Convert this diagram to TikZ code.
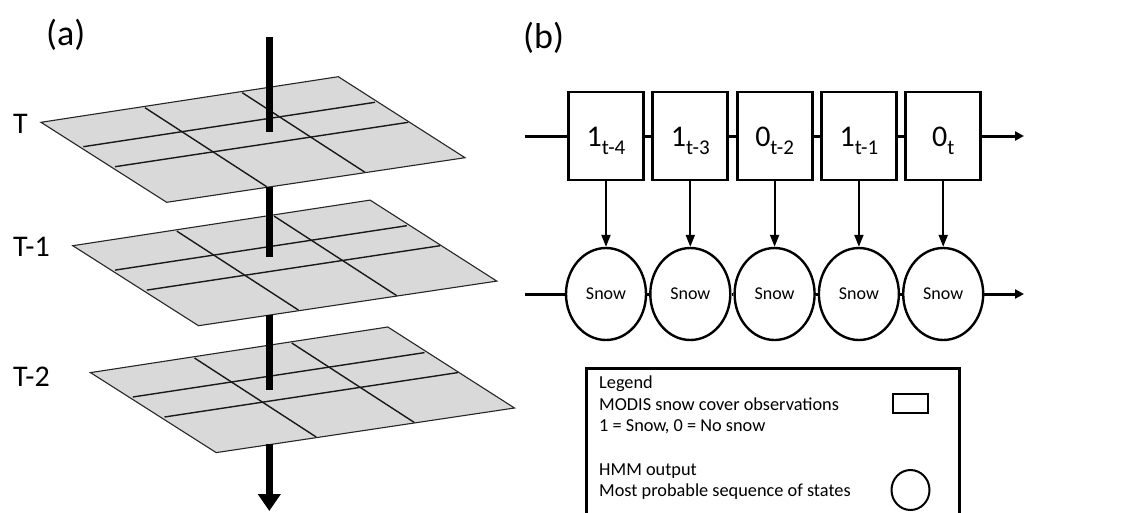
\documentclass[tikz,border=0pt]{standalone}
\usepackage{fontspec}
\setmainfont{Carlito}
\usetikzlibrary{arrows.meta,shapes.geometric}
\newcommand\obsv[2]{#1\raisebox{-7.5pt}{\fontsize{21}{21}\selectfont #2}}
\begin{document}
\begin{tikzpicture}[x=1pt,y=-1pt,
  gridline/.style={line width=1.4pt, draw=black!90},
  planeedge/.style={line width=1.1pt, draw=black!85},
  obsbox/.style={draw, line width=2.8pt, fill=white, minimum width=75pt, minimum height=88pt,
     inner sep=0pt, text height=21pt, text depth=0pt, font=\fontsize{30}{32}\selectfont},
  state/.style={draw, ellipse, line width=2.4pt, fill=white, minimum width=80pt, minimum height=92pt,
     inner sep=0pt, font=\fontsize{18}{20}\selectfont},
  chain/.style={line width=3pt},
  chainend/.style={line width=3pt, -{Triangle[width=9pt,length=9pt]}},
  emit/.style={line width=2pt, -{Triangle[width=9pt,length=12pt]}},
  axisline/.style={line width=6.5pt},
  lbl/.style={anchor=base west, inner sep=0pt, font=\fontsize{30}{32}\selectfont},
  panel/.style={anchor=base west, inner sep=0pt, font=\fontsize{36}{38}\selectfont},
  legtext/.style={anchor=base west, inner sep=0pt, font=\fontsize{18.3}{20}\selectfont},
  gridplane/.pic={
    \fill[black!15] (41,122.3) -- (338.3,76.7) -- (465,157.7) -- (166.7,202.3) -- cycle;
    \draw[gridline] (145,107.7) -- (266.7,186.7);
    \draw[gridline] (242.3,92.7) -- (365,172.3);
    \draw[gridline] (83.3,146.7) -- (375,102.3);
    \draw[gridline] (115,166.7) -- (408.3,122.3);
    \draw[planeedge] (41,122.3) -- (338.3,76.7) -- (465,157.7) -- (166.7,202.3) -- cycle;
  }
]
\useasboundingbox (0,0) rectangle (1128,512);
\clip (0,0) rectangle (1128,512);

% ---------- panel (a) ----------
\node[panel] (pa) at (46,45) {(a)};
\pic at (49.5,250.3) {gridplane};
\pic at (31.8,123.4) {gridplane};
\pic at (0,0) {gridplane};

\node[lbl] (lT)  at (13,133.3) {T};
\node[lbl] (lT1) at (13,256.7) {T-1};
\node[lbl] (lT2) at (13,386)   {T-2};

\coordinate (ax0) at (269.3,37);
\coordinate (ax1) at (269.3,131.7);
\coordinate (ax2) at (269.3,187);
\coordinate (ax3) at (269.3,256.7);
\coordinate (ax4) at (269.3,315.2);
\coordinate (ax5) at (269.3,390);
\coordinate (ax6) at (269.3,444.4);
\coordinate (ax7) at (269.3,511);
\draw[axisline] (ax0) -- (ax1);
\draw[axisline] (ax2) -- (ax3);
\draw[axisline] (ax4) -- (ax5);
\draw[axisline, -{Triangle[width=22pt,length=17pt]}] (ax6) -- (ax7);

% ---------- panel (b) ----------
\node[panel] (pb) at (523,48) {(b)};

\node[obsbox] (o1) at (606,136)   {\obsv{1}{t-4}};
\node[obsbox] (o2) at (690.3,136) {\obsv{1}{t-3}};
\node[obsbox] (o3) at (774.6,136) {\obsv{0}{t-2}};
\node[obsbox] (o4) at (858.9,136) {\obsv{1}{t-1}};
\node[obsbox] (o5) at (943.2,136) {\obsv{0}{t}};

\node[state] (s1) at (606,294)   {Snow};
\node[state] (s2) at (690.3,294) {Snow};
\node[state] (s3) at (774.6,294) {Snow};
\node[state] (s4) at (858.9,294) {Snow};
\node[state] (s5) at (943.2,294) {Snow};

\coordinate (ostart) at (525,136);
\coordinate (oend) at (1024,136);
\coordinate (sstart) at (525,294);
\coordinate (send) at (1024,294);

\draw[chain] (ostart) -- (o1.west);
\draw[chain] (o1.east) -- (o2.west);
\draw[chain] (o2.east) -- (o3.west);
\draw[chain] (o3.east) -- (o4.west);
\draw[chain] (o4.east) -- (o5.west);
\draw[chainend] (o5.east) -- (oend);

\draw[chain] (sstart) -- (s1.west);
\draw[chain] (s1.east) -- (s2.west);
\draw[chain] (s2.east) -- (s3.west);
\draw[chain] (s3.east) -- (s4.west);
\draw[chain] (s4.east) -- (s5.west);
\draw[chainend] (s5.east) -- (send);

\foreach \i in {1,...,5} {
  \draw[emit] (o\i.south) -- (s\i.north);
}

% ---------- legend ----------
\node[draw, line width=3pt, anchor=north west, minimum width=373pt, minimum height=170pt, inner sep=0pt] (legend) at (585,367) {};
\node[legtext] (lg1) at (599,388)   {Legend};
\node[legtext] (lg2) at (599,410)   {MODIS snow cover observations};
\node[legtext] (lg3) at (599,431.7) {1 = Snow, 0 = No snow};
\node[legtext] (lg4) at (599,475)   {HMM output};
\node[legtext] (lg5) at (599,496.7) {Most probable sequence of states};
\node[draw, line width=2pt, minimum width=35pt, minimum height=19pt, inner sep=0pt] (lrect) at (910.5,403.5) {};
\node[draw, ellipse, line width=2pt, minimum width=38pt, minimum height=40pt, inner sep=0pt] (lcirc) at (910.5,490) {};
\end{tikzpicture}
\end{document}
